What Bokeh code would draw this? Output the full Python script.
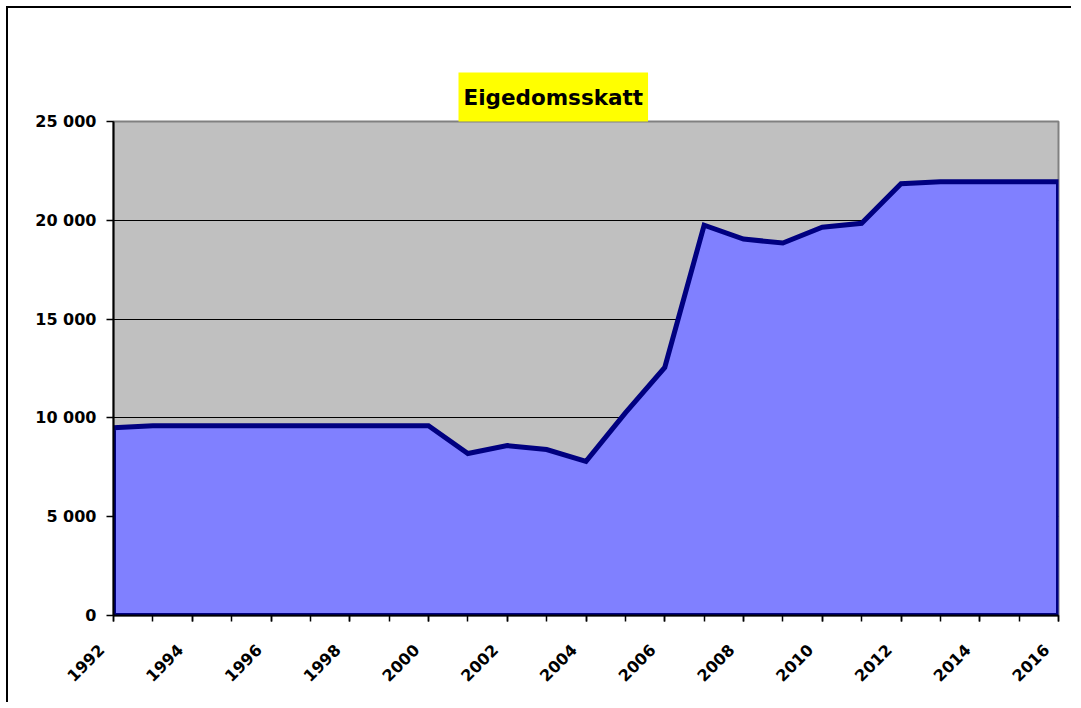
import math
from bokeh.plotting import figure
from bokeh.models import FixedTicker, Range1d, Title
from bokeh.embed import file_html
from bokeh.resources import INLINE

# ---- data ----
years = list(range(1992, 2017))
values = [9500, 9600, 9600, 9600, 9600, 9600, 9600, 9600, 9600,
          8200, 8600, 8400, 7800, 10250, 12550,
          19750, 19050, 18850, 19650, 19850,
          21850, 21950, 21950, 21950, 21950]
label_years = list(range(1992, 2017, 2))
x_tick_labels = [str(y) for y in label_years]
y_ticks = [0, 5000, 10000, 15000, 20000, 25000]
y_tick_labels = ["0", "5 000", "10 000", "15 000", "20 000", "25 000"]
title_text = "Eigedomsskatt"

FONT = "DejaVu Sans"
NBSP = "\u00a0"

p = figure(width=1065, height=696,
           x_range=Range1d(years[0], years[-1]), y_range=Range1d(0, 25000),
           output_backend="svg", toolbar_location=None,
           min_border_left=105, min_border_right=15,
           min_border_top=113, min_border_bottom=89,
           background_fill_color="#C0C0C0", border_fill_color="white",
           outline_line_color="#808080", outline_line_width=2)
p.styles = {"border-left": "2px solid black", "border-top": "2px solid black",
            "margin-left": "6px", "margin-top": "6px"}
p.title = None

# area polygon built from the data
xs = [years[0]] + years + [years[-1]]
ys = [0] + values + [0]
p.patch(xs, ys, fill_color="#8080FF", line_color="#000080", line_width=5,
        line_join="miter")

# grid
p.xgrid.visible = False
p.ygrid.ticker = FixedTicker(ticks=y_ticks)
p.ygrid.grid_line_color = "black"
p.ygrid.grid_line_width = 1.2

# x axis
xa = p.xaxis[0]
xa.ticker = FixedTicker(ticks=label_years, minor_ticks=years)
xa.major_label_overrides = {y: t + NBSP * 3 for y, t in zip(label_years, x_tick_labels)}
xa.major_tick_out = 6
xa.major_tick_in = 0
xa.minor_tick_out = 6
xa.minor_tick_in = 0
xa.axis_line_color = "black"
xa.axis_line_width = 2
xa.major_tick_line_color = "black"
xa.minor_tick_line_color = "black"
xa.major_tick_line_width = 1.5
xa.minor_tick_line_width = 1.5
xa.major_label_orientation = math.pi / 4
xa.major_label_text_font = FONT
xa.major_label_text_font_style = "bold"
xa.major_label_text_font_size = "16px"
xa.major_label_text_color = "black"
xa.major_label_standoff = 14

# y axis
ya = p.yaxis[0]
ya.ticker = FixedTicker(ticks=y_ticks, minor_ticks=[])
ya.major_label_overrides = dict(zip(y_ticks, y_tick_labels))
ya.major_tick_out = 7
ya.major_tick_in = 0
ya.minor_tick_out = 0
ya.minor_tick_in = 0
ya.axis_line_color = "black"
ya.axis_line_width = 2
ya.major_tick_line_color = "black"
ya.major_tick_line_width = 1.5
ya.major_label_text_font = FONT
ya.major_label_text_font_style = "bold"
ya.major_label_text_font_size = "16px"
ya.major_label_text_color = "black"
ya.major_label_standoff = 10

# invisible spacer between plot area and title (first = nearest the frame)
spacer = Title(text=".", text_font_size="10px", text_color="white",
               text_alpha=0.0, standoff=40)
p.add_layout(spacer, "above")

# title with yellow box
title = Title(text=title_text, align="left", offset=345,
              text_font=FONT, text_font_style="bold", text_font_size="21.5px",
              text_color="black", background_fill_color="#FFFF00",
              padding=dict(left=5, right=5, top=12, bottom=12), standoff=0)
p.add_layout(title, "above")

open("out.html", "w").write(file_html(p, INLINE))
